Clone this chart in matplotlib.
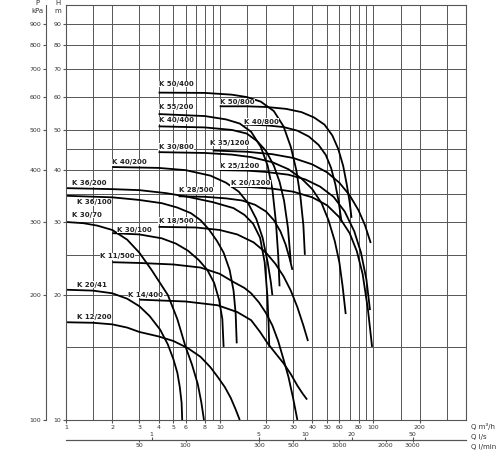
import matplotlib
matplotlib.use("Agg")
import matplotlib.pyplot as plt
from matplotlib.ticker import NullLocator, FixedLocator, FixedFormatter

# pump curves, (Q m3/h, H m)
K50_400 = [(4, 61.5), (8, 61.4), (12, 60.8), (15, 60), (18.5, 58.5), (22.5, 55.5), (26, 51),
           (29, 45.5), (31.5, 40), (33.5, 34.5), (35, 29.5), (35.8, 25)]
K55_200 = [(4, 54.6), (8, 54), (11, 53), (13.5, 51.8), (16, 49.5), (18.5, 45.5), (20.5, 41),
           (22, 36), (23.2, 30), (24, 25), (24.5, 21)]
K40_400 = [(4, 51), (8, 50.7), (12, 50), (15, 49), (17.5, 47), (20, 44.5), (22.5, 41),
           (24.5, 37.5), (26.2, 33.8), (27.8, 29), (29, 24)]
K30_800 = [(4, 44.2), (8, 44), (12, 43.6), (16, 43), (22, 41.8), (28, 40.2), (34, 38.2),
           (40, 36), (46, 33.3), (51, 30.3), (56, 27), (60, 24), (63, 21), (66, 18)]
K50_800 = [(10, 57), (15, 57), (20, 56.8), (27, 56.2), (34, 55.2), (41, 53.6), (48, 51.5),
           (54, 48.5), (59, 45), (63.5, 41), (67, 37), (70, 33.5), (72, 30.7)]
K40_800 = [(14.3, 51.5), (20, 51.3), (26, 50.8), (32, 49.8), (38, 48.2), (44, 46), (49, 43.5),
           (53, 40.5), (56.5, 37), (59.5, 33.5), (62, 30)]
K35_1200 = [(9, 44.6), (15, 44.3), (22, 43.7), (30, 42.8), (40, 41.3), (50, 39.5), (60, 37.3),
            (70, 34.8), (80, 32), (88, 29.5), (96, 26.7)]
K25_1200 = [(10, 40), (15, 39.9), (20, 39.6), (28, 39), (36, 38), (45, 36.5), (55, 34.5),
            (65, 31.8), (75, 28.5), (83, 25.3), (90, 21.8), (95, 18.4)]
K20_1200 = [(11.8, 36.5), (16, 36.4), (22, 36.1), (30, 35.5), (40, 34.4), (50, 32.9),
            (60, 30.8), (70, 28.2), (78, 25.5), (85, 22.5), (92, 18.5), (98, 15)]
K40_200 = [(2, 40.7), (4, 40.5), (6, 40), (8.7, 38.8), (11, 37.3), (13.3, 35.5), (15.3, 33.3),
           (17.3, 30.5), (19, 27.5), (20.5, 24), (21.5, 21.5), (22, 20)]
K36_200 = [(1, 36.2), (2, 36), (3, 35.8), (4.5, 35.2), (6.2, 34.5), (9, 33.5), (12.3, 32.4),
           (14.5, 31.2), (16.5, 29.7), (18.3, 27.5), (19.6, 24), (20.4, 20), (20.8, 17),
           (21, 15)]
K36_100 = [(1, 34.7), (2, 34.4), (3, 33.9), (4.2, 33.3), (5.3, 32.5), (6.5, 31.5), (7.5, 30.3),
           (8.5, 28.8), (9.6, 27), (10.6, 25.3), (11.6, 23), (12.3, 20.5), (12.7, 18),
           (12.9, 15.3)]
K28_500 = [(5.4, 34.6), (8, 34.5), (11, 34.2), (14, 33.8), (17, 33), (20, 31.8), (22.5, 30.3),
           (24.8, 28.5), (26.8, 26.5), (28.5, 24.5), (29.7, 23)]
K18_500 = [(4, 29.2), (7, 29.1), (10, 28.7), (13, 28), (16.6, 26.8), (20, 25.3), (23, 23.8),
           (26, 22.2), (29, 20.5), (32, 18.7), (35, 16.9), (37.5, 15.5)]
K30_70 = [(1, 30), (1.3, 29.8), (1.6, 29.4), (2, 28.7), (2.5, 27.2), (3, 25.3), (3.6, 23),
          (4.6, 20), (5.3, 17.5), (6, 15), (6.6, 13.6), (7.2, 12.2), (7.6, 11), (7.9, 10)]
K30_100 = [(2, 28.2), (3, 28), (4.2, 27.4), (5.2, 26.6), (6.2, 25.6), (7.3, 24.3), (8.3, 23),
           (9.2, 21.4), (9.9, 19.5), (10.4, 17.5), (10.6, 15)]
K11_500 = [(2, 24), (3, 23.9), (5, 23.7), (7.5, 23.3), (10, 22.5), (12.3, 21.5), (14.5, 20.8),
           (16, 20.2), (18, 19.2), (20, 18.1), (22, 16.9), (24, 15.5), (26, 14), (28, 12.7),
           (30, 11.3), (32, 10)]
K20_41 = [(1, 20.6), (1.5, 20.5), (2, 20.2), (2.5, 19.6), (3, 18.8), (3.5, 17.8), (4.1, 16.5),
          (4.6, 15.2), (5, 14), (5.3, 13), (5.5, 12), (5.65, 11), (5.7, 10)]
K14_400 = [(3, 19.5), (6, 19.3), (9.7, 18.9), (13, 18.2), (16, 17.4), (18.3, 16.3),
           (20.5, 15.3), (23, 14.5), (26, 13.7), (29, 12.9), (32, 12.1), (34.5, 11.6),
           (37, 11.2)]
K12_200 = [(1, 17.2), (1.5, 17.15), (2, 17), (2.5, 16.7), (3, 16.3), (4, 15.9), (5, 15.5),
           (6.2, 14.9), (7.5, 14.2), (8.7, 13.4), (9.7, 12.7), (10.8, 12), (11.8, 11.3),
           (12.7, 10.6), (13.5, 10)]

curves = [K50_400, K55_200, K40_400, K30_800, K50_800, K40_800, K35_1200, K25_1200,
          K20_1200, K40_200, K36_200, K36_100, K28_500, K18_500, K30_70, K30_100,
          K11_500, K20_41, K14_400, K12_200]
names = ["K 50/400", "K 55/200", "K 40/400", "K 30/800", "K 50/800", "K 40/800",
         "K 35/1200", "K 25/1200", "K 20/1200", "K 40/200", "K 36/200", "K 36/100",
         "K 28/500", "K 18/500", "K 30/70", "K 30/100", "K 11/500", "K 20/41",
         "K 14/400", "K 12/200"]
label_at = [(4, 64.5), (4, 56.8), (4, 52.8), (4, 45.6), (10, 58.4), (14.3, 52.3),
            (8.6, 46.5), (10, 40.9), (11.8, 37.2), (2, 41.8), (1.1, 37.2), (1.18, 33.5),
            (5.4, 35.8), (4, 30.2), (1.1, 31.2), (2.15, 28.7), (1.67, 24.8), (1.18, 21.2),
            (2.55, 20), (1.18, 17.7)]

x_grid = [1, 1.5, 2, 3, 4, 5, 6, 7, 8, 9, 10, 15, 20, 30, 40, 50, 60, 70, 80, 90, 100,
          150, 200, 300, 400]
x_ticks = [1, 2, 3, 4, 5, 6, 8, 10, 20, 30, 40, 50, 60, 80, 100, 200]
y_grid = [10, 15, 20, 25, 30, 35, 40, 45, 50, 60, 70, 80, 90, 100]
h_ticks = [10, 20, 30, 40, 50, 60, 70, 80, 90]
p_ticks = [100, 200, 300, 400, 500, 600, 700, 800, 900]
ls_ticks = [1, 5, 10, 20, 50]
lmin_ticks = [50, 100, 300, 500, 1000, 2000, 3000]

gray = "#555555"
txt = "#333333"

fig = plt.figure(figsize=(5, 4.5), dpi=100)
ax = fig.add_axes([66 / 500, 30 / 450, 400 / 500, 415 / 450])
ax.set_xscale("log")
ax.set_yscale("log")
ax.set_xlim(1, 400)
ax.set_ylim(10, 100)

ax.xaxis.set_major_locator(FixedLocator(x_ticks))
ax.xaxis.set_major_formatter(FixedFormatter([str(v) for v in x_ticks]))
ax.xaxis.set_minor_locator(FixedLocator(x_grid))
ax.xaxis.set_minor_formatter(FixedFormatter([""] * len(x_grid)))
ax.yaxis.set_major_locator(FixedLocator(h_ticks))
ax.yaxis.set_major_formatter(FixedFormatter([str(v) for v in h_ticks]))
ax.yaxis.set_minor_locator(FixedLocator(y_grid))
ax.yaxis.set_minor_formatter(FixedFormatter([""] * len(y_grid)))
ax.grid(True, which="both", color=gray, lw=0.7)
ax.tick_params(which="major", labelsize=4.5, labelcolor=txt, color=gray, length=2, pad=1.5)
ax.tick_params(which="minor", length=0)
for s in ax.spines.values():
    s.set_color(gray)
    s.set_linewidth(0.8)

for pts, name, (lq, lh) in zip(curves, names, label_at):
    q = [p[0] for p in pts]
    h = [p[1] for p in pts]
    ax.plot(q, h, color="black", lw=1.3, solid_capstyle="butt", solid_joinstyle="round")
    ax.text(lq, lh, name, fontsize=5, fontweight="bold", color="#222222",
            ha="left", va="center",
            bbox=dict(facecolor="white", edgecolor="none", pad=0.3))

# pressure axis (kPa) on the left
sp = ax.secondary_yaxis(-20 / 400, functions=(lambda h: h * 10, lambda p: p / 10))
sp.yaxis.set_major_locator(FixedLocator(p_ticks))
sp.yaxis.set_major_formatter(FixedFormatter([str(v) for v in p_ticks]))
sp.yaxis.set_minor_locator(NullLocator())
sp.tick_params(labelsize=4.5, labelcolor=txt, color=gray, length=2.5, pad=1)
sp.spines["left"].set_color(gray)

# flow axes l/s (above) and l/min (below)
off = -20 / 415
sls = ax.secondary_xaxis(off, functions=(lambda q: q / 3.6, lambda s: s * 3.6))
sls.set_alignment("top")
sls.xaxis.set_major_locator(FixedLocator(ls_ticks))
sls.xaxis.set_major_formatter(FixedFormatter([str(v) for v in ls_ticks]))
sls.xaxis.set_minor_locator(NullLocator())
sls.tick_params(labelsize=4.5, labelcolor=txt, color=gray, length=2, pad=0.5)
sls.spines["top"].set_color(gray)

slm = ax.secondary_xaxis(off, functions=(lambda q: q * 1000 / 60, lambda m: m * 60 / 1000))
slm.xaxis.set_major_locator(FixedLocator(lmin_ticks))
slm.xaxis.set_major_formatter(FixedFormatter([str(v) for v in lmin_ticks]))
slm.xaxis.set_minor_locator(NullLocator())
slm.tick_params(labelsize=4.5, labelcolor=txt, color=gray, length=1.5, pad=0.5)
slm.spines["bottom"].set_color(gray)

fig.text(471 / 500, 1 - 427 / 450, "Q m³/h", fontsize=5, color=txt, va="center")
fig.text(471 / 500, 1 - 437 / 450, "Q l/s", fontsize=5, color=txt, va="center")
fig.text(471 / 500, 1 - 447 / 450, "Q l/min", fontsize=5, color=txt, va="center")
fig.text(37 / 500, 1 - 3 / 450, "P", fontsize=5, color=txt, ha="center", va="center")
fig.text(37 / 500, 1 - 11 / 450, "kPa", fontsize=5, color=txt, ha="center", va="center")
fig.text(58 / 500, 1 - 3 / 450, "H", fontsize=5, color=txt, ha="center", va="center")
fig.text(58 / 500, 1 - 11 / 450, "m", fontsize=5, color=txt, ha="center", va="center")

fig.savefig("out.png", dpi=100, facecolor="white")
